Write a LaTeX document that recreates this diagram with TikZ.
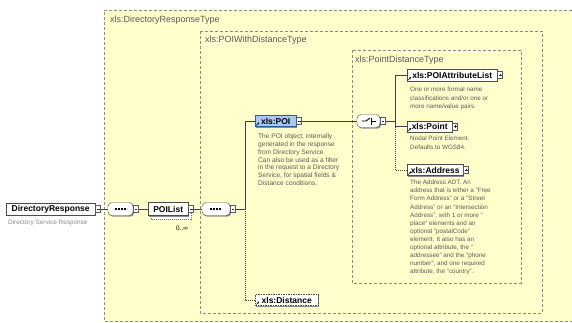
\documentclass[tikz,border=0pt]{standalone}
\usepackage{fontspec}
\setmainfont{Liberation Sans}
\usetikzlibrary{shadows,calc,arrows.meta}
\definecolor{bgyel}{HTML}{FFFFCC}
\definecolor{boxgray}{HTML}{8C8C8C}
\definecolor{poiblue}{HTML}{A6C8F2}
\definecolor{poiedge}{HTML}{2F5D9A}
\definecolor{desccol}{HTML}{5A5A5A}
\newcommand\mybtnminus[1]{\draw[line width=0.5pt,black!80] ($(#1.center)+(-1.4,0)$) -- ($(#1.center)+(1.4,0)$);}
\newcommand\mybtnplus[1]{\draw[line width=0.5pt,black!80] ($(#1.center)+(-1.4,0)$) -- ($(#1.center)+(1.4,0)$) ($(#1.center)+(0,-1.4)$) -- ($(#1.center)+(0,1.4)$);}
\newcommand\myref[1]{\draw[-{Stealth[length=2pt,width=2pt]},line width=0.6pt] ($(#1.south west)+(1.2,-1.2)$) -- ++(3,-3);}
\newcommand\myseq[1]{\draw[line width=1.3pt,dash pattern=on 2pt off 1pt] ($(#1.center)+(-6,0)$) -- ($(#1.center)+(6,0)$);}
\begin{document}
\begin{tikzpicture}[x=1pt,y=-1pt,
  typebox/.style={draw=boxgray,line width=0.6pt,dash pattern=on 3pt off 2pt},
  title/.style={anchor=west,inner sep=0pt,font=\fontsize{9}{10}\selectfont,text=black!65},
  elem/.style={draw=black!70,fill=white,font=\fontsize{8.5}{9}\selectfont\bfseries,inner sep=0pt,minimum height=12pt,anchor=west,
    drop shadow={shadow xshift=1.2pt,shadow yshift=-1.2pt,fill=black!45,opacity=1}},
  btn/.style={draw=black!65,fill=white,minimum width=5pt,minimum height=7pt,inner sep=0pt,anchor=west},
  comp/.style={draw=black!70,fill=white,rounded corners=4pt,inner sep=0pt,minimum height=13pt,
    drop shadow={shadow xshift=1.2pt,shadow yshift=-1.2pt,fill=black!45,opacity=1}},
  desc/.style={anchor=north west,inner sep=0pt,align=left,text=desccol},
  conn/.style={draw=black!75,line width=0.6pt},
  opt/.style={draw=black!75,line width=0.6pt,dash pattern=on 1pt off 1pt}]
\useasboundingbox (0,0) rectangle (572,322);
\fill[white] (0,0) rectangle (572,322);
% type boxes
\fill[bgyel] (104,10) rectangle (572,322);
\draw[typebox] (572,10) -- (104,10) -- (104,321) -- (572,321);
\draw[typebox] (200,31) rectangle (542,313);
\draw[typebox] (352,50) rectangle (521,283);
\node[title] (t1) at (110,20) {xls:DirectoryResponseType};
\node[title] (t2) at (205,40) {xls:POIWithDistanceType};
\node[title] (t3) at (355,60) {xls:PointDistanceType};
% root element
\node[elem,minimum width=89pt] (dr) at (6,209) {DirectoryResponse};
\node[btn] (drb) at (dr.east) {};
\mybtnminus{drb}
\node[anchor=west,inner sep=0pt,font=\fontsize{6.4}{7}\selectfont,text=black!45] (drd) at (8,223) {Directory Service Response};
% sequence 1
\node[comp,minimum width=25pt] (s1) at (120.5,209) {};
\myseq{s1}
\node[btn] (s1b) at (s1.east) {};
\mybtnminus{s1b}
% POIList
\draw[fill=white,draw=black!55,dash pattern=on 1pt off 1pt] (151,206) rectangle (191,219);
\node[elem,minimum width=40pt,minimum height=13pt] (pl) at (148,209) {POIList};
\node[btn] (plb) at (pl.east) {};
\mybtnminus{plb}
\node[inner sep=0pt,font=\fontsize{6.4}{7}\selectfont] (plm) at (182,228) {0..∞};
% sequence 2
\node[comp,minimum width=28pt] (s2) at (216,209) {};
\myseq{s2}
\node[btn] (s2b) at (s2.east) {};
\mybtnminus{s2b}
% POI
\node[elem,minimum width=41pt,minimum height=11pt,fill=poiblue,draw=poiedge] (poi) at (255,121) {xls:POI};
\myref{poi}
\node[btn] (poib) at (poi.east) {};
\mybtnminus{poib}
\node[desc,font=\fontsize{6.6}{7.7}\selectfont] (poid) at (258,134) {The POI object, internally\\generated in the response\\from Directory Service.\\Can also be used as a filter\\in the request to a Directory\\Service, for spatial fields \&\\Distance conditions.};
% Distance
\node[elem,minimum width=63pt,minimum height=11pt,dash pattern=on 1.5pt off 1pt] (dist) at (255,300) {xls:Distance};
\myref{dist}
% choice
\node[comp,minimum width=23pt] (ch) at (368.5,121) {};
\draw[line width=0.9pt] ($(ch.center)+(-7,0)$) -- ($(ch.center)+(-2.5,0)$) -- ($(ch.center)+(1.5,-3)$);
\draw[line width=0.9pt] ($(ch.center)+(2.5,-3.5)$) -- ($(ch.center)+(2.5,3.5)$);
\draw[line width=0.9pt] ($(ch.center)+(2.5,0)$) -- ($(ch.center)+(7,0)$);
\node[btn] (chb) at (ch.east) {};
\mybtnminus{chb}
% choice children
\node[elem,minimum width=90pt] (pal) at (407,75) {xls:POIAttributeList};
\myref{pal}
\node[btn] (palb) at (pal.east) {};
\mybtnplus{palb}
\node[desc,font=\fontsize{6.3}{8.3}\selectfont] (pald) at (410,87) {One or more formal name\\classifications and/or one or\\more name/value pairs.};
\node[elem,minimum width=45pt,minimum height=11pt] (pt) at (407,126.5) {xls:Point};
\myref{pt}
\node[btn] (ptb) at (pt.east) {};
\mybtnplus{ptb}
\node[desc,font=\fontsize{6.3}{8.5}\selectfont] (ptd) at (410,136) {Nodal Point Element.\\Defaults to WGS84.};
\node[elem,minimum width=56pt,minimum height=11pt] (addr) at (407,170) {xls:Address};
\myref{addr}
\node[btn] (addrb) at (addr.east) {};
\mybtnplus{addrb}
\node[desc,font=\fontsize{6.3}{8.1}\selectfont] (addrd) at (410,180) {The Address ADT. An\\address that is either a "Free\\Form Address" or a "Street\\Address" or an "Intersection\\Address", with 1 or more "\\place" elements and an\\optional "postalCode"\\element. It also has an\\optional attribute, the "\\addressee" and the "phone\\number", and one required\\attribute, the "country".};
% connectors
\coordinate (v1) at (245,209);
\coordinate (v2) at (395,121);
\draw[conn] (drb.east) -- (s1.west);
\draw[conn] (s1b.east) -- (pl.west);
\draw[conn] (plb.east) -- (s2.west);
\draw[conn] (s2b.east) -- (v1);
\draw[conn] (v1) |- (poi.west);
\draw[opt] (v1) |- (dist.west);
\draw[conn] (poib.east) -- (ch.west);
\draw[conn] (chb.east) -- (v2);
\draw[conn] (v2) |- (pal.west);
\draw[conn] (v2) |- (pt.west);
\draw[opt] (v2 |- pt.west) |- (addr.west);
\end{tikzpicture}
\end{document}
